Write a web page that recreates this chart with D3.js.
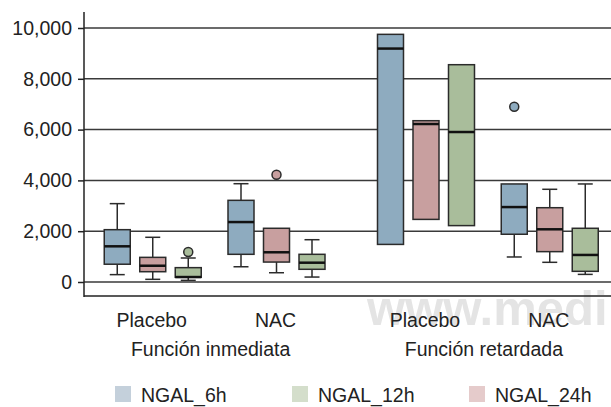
<!DOCTYPE html>
<html>
<head>
<meta charset="utf-8">
<title>NGAL boxplot</title>
<script src="https://d3js.org/d3.v7.min.js"></script>
<style>
  body { margin: 0; background: #fff; }
  svg text { font-family: "Liberation Sans", Arial, Helvetica, sans-serif; fill: #222; }
</style>
</head>
<body>
<svg width="611" height="407"></svg>
<script>
// categories
const funciones = ["Función inmediata", "Función retardada"];
const tratamientos = ["Placebo", "NAC"];
const series = ["NGAL_6h", "NGAL_12h", "NGAL_24h"];      // legend order
const drawOrder = ["NGAL_6h", "NGAL_24h", "NGAL_12h"];   // order inside each group
const yTicks = [0, 2000, 4000, 6000, 8000, 10000];

// values per group: [inmediata/Placebo, inmediata/NAC, retardada/Placebo, retardada/NAC]
const lowNGAL6 = [290, 600, 1480, 985];
const q1NGAL6 = [700, 1090, 1480, 1880];
const medNGAL6 = [1405, 2360, 9190, 2950];
const q3NGAL6 = [2060, 3215, 9750, 3860];
const highNGAL6 = [3085, 3870, 9750, 3860];
const outNGAL6 = [[], [], [], [6900]];

const lowNGAL12 = [65, 195, 2220, 300];
const q1NGAL12 = [185, 500, 2220, 420];
const medNGAL12 = [195, 760, 5905, 1065];
const q3NGAL12 = [565, 1090, 8555, 2115];
const highNGAL12 = [945, 1665, 8555, 3860];
const outNGAL12 = [[1180], [], [], []];

const lowNGAL24 = [105, 365, 2465, 775];
const q1NGAL24 = [405, 785, 2465, 1195];
const medNGAL24 = [640, 1170, 6220, 2075];
const q3NGAL24 = [970, 2115, 6350, 2925];
const highNGAL24 = [1760, 2115, 6350, 3650];
const outNGAL24 = [[], [4225], [], []];

const stats = {
  NGAL_6h: [lowNGAL6, q1NGAL6, medNGAL6, q3NGAL6, highNGAL6, outNGAL6],
  NGAL_12h: [lowNGAL12, q1NGAL12, medNGAL12, q3NGAL12, highNGAL12, outNGAL12],
  NGAL_24h: [lowNGAL24, q1NGAL24, medNGAL24, q3NGAL24, highNGAL24, outNGAL24]
};

const fill = d3.scaleOrdinal().domain(series).range(["#8eabbf", "#a9bd9b", "#c89f9f"]);
const light = d3.scaleOrdinal().domain(series).range(["#c4d0db", "#d4decb", "#e5cbcb"]);

const svg = d3.select("svg");
const plot = { left: 84, right: 611, top: 12, bottom: 296 };

const y = d3.scaleLinear().domain([0, 10000]).range([282, 28]);
const x0 = d3.scaleBand().domain(funciones).range([78, 624.5]);
const x1 = d3.scalePoint().domain(tratamientos).range([0, x0.bandwidth()]).padding(0.604);
const xs = d3.scalePoint().domain(drawOrder).range([-35.5, 35.5]);
const boxW = 26, capW = 15;

// flatten groups
const boxes = [];
funciones.forEach((f, fi) => tratamientos.forEach((t, ti) => {
  const gi = fi * 2 + ti;
  drawOrder.forEach(s => {
    const st = stats[s];
    boxes.push({
      f, t, s,
      cx: x0(f) + x1(t) + xs(s),
      low: st[0][gi], q1: st[1][gi], med: st[2][gi], q3: st[3][gi], high: st[4][gi], out: st[5][gi]
    });
  });
}));

// watermark
svg.append("text")
  .attr("x", 367).attr("y", 325)
  .style("font-size", "49px").style("font-weight", "bold")
  .style("fill", "#e4e4e4")
  .text("www.medi");

// gridlines
svg.append("g").selectAll("line").data(yTicks).join("line")
  .attr("x1", plot.left).attr("x2", plot.right)
  .attr("y1", d => y(d)).attr("y2", d => y(d))
  .attr("stroke", "#3a3a3a").attr("stroke-width", 1.5);

// y axis
const yAxis = svg.append("g")
  .attr("transform", `translate(${plot.left},0)`)
  .call(d3.axisLeft(y).tickValues(yTicks).tickFormat(d3.format(",")).tickSize(6).tickPadding(6));
yAxis.select(".domain").remove();
yAxis.selectAll(".tick line").attr("stroke", "#222").attr("stroke-width", 1.5);
yAxis.selectAll(".tick text").style("font-size", "19.5px").attr("fill", "#222");

// frame
svg.append("line").attr("x1", plot.left).attr("x2", plot.left).attr("y1", plot.top).attr("y2", plot.bottom + 1)
  .attr("stroke", "#222").attr("stroke-width", 1.5);
svg.append("line").attr("x1", plot.left).attr("x2", plot.right).attr("y1", plot.bottom).attr("y2", plot.bottom)
  .attr("stroke", "#222").attr("stroke-width", 1.5);

// boxes
const g = svg.append("g").selectAll("g").data(boxes).join("g");

g.filter(d => d.high > d.q3).append("line")
  .attr("x1", d => d.cx).attr("x2", d => d.cx)
  .attr("y1", d => y(d.q3)).attr("y2", d => y(d.high))
  .attr("stroke", "#2b2b2b").attr("stroke-width", 1.5);
g.filter(d => d.high > d.q3).append("line")
  .attr("x1", d => d.cx - capW / 2).attr("x2", d => d.cx + capW / 2)
  .attr("y1", d => y(d.high)).attr("y2", d => y(d.high))
  .attr("stroke", "#2b2b2b").attr("stroke-width", 1.5);
g.filter(d => d.low < d.q1).append("line")
  .attr("x1", d => d.cx).attr("x2", d => d.cx)
  .attr("y1", d => y(d.q1)).attr("y2", d => y(d.low))
  .attr("stroke", "#2b2b2b").attr("stroke-width", 1.5);
g.filter(d => d.low < d.q1).append("line")
  .attr("x1", d => d.cx - capW / 2).attr("x2", d => d.cx + capW / 2)
  .attr("y1", d => y(d.low)).attr("y2", d => y(d.low))
  .attr("stroke", "#2b2b2b").attr("stroke-width", 1.5);

g.append("rect")
  .attr("x", d => d.cx - boxW / 2).attr("width", boxW)
  .attr("y", d => y(d.q3)).attr("height", d => y(d.q1) - y(d.q3))
  .attr("fill", d => fill(d.s))
  .attr("stroke", "#2b2b2b").attr("stroke-width", 1.5);

g.append("line")
  .attr("x1", d => d.cx - boxW / 2).attr("x2", d => d.cx + boxW / 2)
  .attr("y1", d => y(d.med)).attr("y2", d => y(d.med))
  .attr("stroke", "#111").attr("stroke-width", 2.5);

g.selectAll("circle").data(d => d.out.map(v => ({ v, cx: d.cx, s: d.s }))).join("circle")
  .attr("cx", d => d.cx).attr("cy", d => y(d.v)).attr("r", 4.5)
  .attr("fill", d => fill(d.s)).attr("stroke", "#2b2b2b").attr("stroke-width", 1.5);

// x labels
funciones.forEach(f => {
  tratamientos.forEach(t => {
    svg.append("text")
      .attr("x", x0(f) + x1(t) - 1).attr("y", 327)
      .attr("text-anchor", "middle").style("font-size", "19.5px")
      .text(t);
  });
  svg.append("text")
    .attr("x", x0(f) + x0.bandwidth() / 2 - 4).attr("y", 356)
    .attr("text-anchor", "middle").style("font-size", "19.5px")
    .text(f);
});

// legend
const legend = svg.append("g").selectAll("g").data(series).join("g")
  .attr("transform", (d, i) => `translate(${115 + i * 177},386)`);
legend.append("rect").attr("width", 16).attr("height", 16).attr("fill", d => light(d));
legend.append("text").attr("x", 26).attr("y", 15.5).style("font-size", "19.5px").text(d => d);
</script>
</body>
</html>
